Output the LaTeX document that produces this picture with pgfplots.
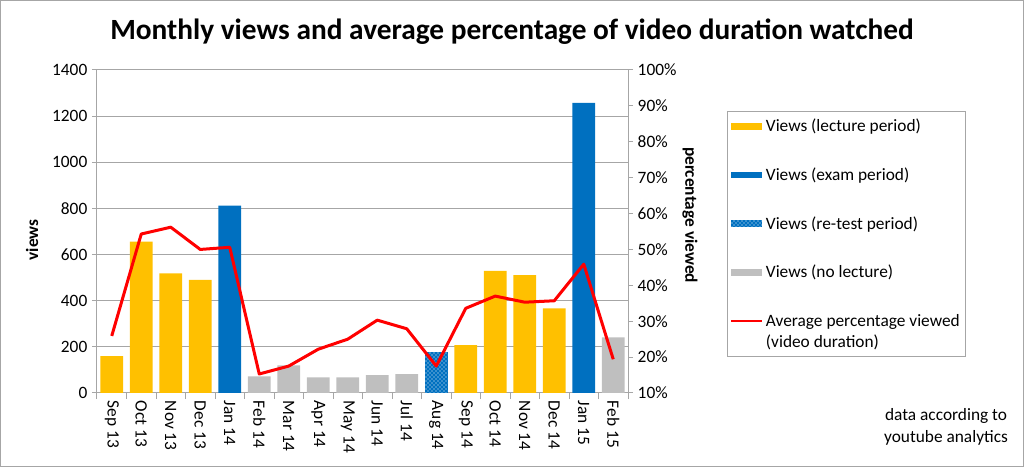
\documentclass[border=0pt]{standalone}
\usepackage{pgfplots}
\pgfplotsset{compat=1.18}
\usepackage{fontspec}
\setmainfont{Carlito}
\usetikzlibrary{patterns}
\definecolor{cyel}{HTML}{FFC000}
\definecolor{cblue}{HTML}{0070C0}
\definecolor{cgray}{HTML}{BFBFBF}
\definecolor{cgrid}{HTML}{A6A6A6}
\pgfplotsset{
  barleg/.style={legend image code/.code={\path[##1, draw=none] (0pt,-2.6pt) rectangle (23.25pt,2.6pt);}},
  lineleg/.style={legend image code/.code={\draw[##1] (0pt,7.9pt) -- (23.25pt,7.9pt);}},
}
\begin{document}
\begin{tikzpicture}
\path[use as bounding box] (-72.75pt,-55.5pt) rectangle (695.25pt,294.75pt);
\draw[cgrid, line width=0.75pt] (-72.4pt,-55.1pt) rectangle (694.9pt,294.4pt);
\begin{axis}[
  scale only axis, width=398.25pt, height=242.25pt,
  xmin=-0.5, xmax=17.5, ymin=0, ymax=1400,
  ytick={0,200,...,1400},
  /pgf/number format/1000 sep={},
  /pgf/number format/assume math mode=true,
  axis y line*=left, axis x line*=bottom,
  axis line style={cgrid, line width=0.75pt},
  ymajorgrids, grid style={cgrid, line width=0.75pt},
  tick align=outside, major tick length=3.75pt, minor tick length=4.5pt,
  tick style={cgrid, line width=0.75pt},
  major x tick style={draw=none},
  xtick={0,...,17},
  minor xtick={-0.5,0.5,...,17.5},
  xticklabels={Sep 13,Oct 13,Nov 13,Dec 13,Jan 14,Feb 14,Mar 14,Apr 14,May 14,Jun 14,Jul 14,Aug 14,Sep 14,Oct 14,Nov 14,Dec 14,Jan 15,Feb 15},
  x tick label style={rotate=-90, anchor=west, font=\fontsize{13}{15}\selectfont, inner sep=2pt},
  y tick label style={font=\fontsize{13}{15}\selectfont},
  ylabel={\textbf{views}},
  ylabel style={at={(axis description cs:-0.1224,0.474)}, anchor=center, rotate=0, font=\fontsize{13}{15}\selectfont},
  legend style={at={(axis description cs:1.1864,0.873)}, anchor=north west, draw=cgrid, line width=0.75pt,
    row sep=21.6pt, font=\fontsize{13}{15.75}\selectfont, cells={align=left}, inner xsep=2pt, inner ysep=3.5pt},
  legend cell align=left,
  clip=false,
]
\addplot[ybar, bar width=16.9pt, bar shift=0pt, fill=cyel, draw=none, barleg]
  coordinates {(0,160) (1,656) (2,519) (3,490) (12,208) (13,529) (14,511) (15,367)};
\addlegendentry{Views (lecture period)}
\addplot[ybar, bar width=16.9pt, bar shift=0pt, fill=cblue, draw=none, barleg]
  coordinates {(4,812) (16,1258)};
\addlegendentry{Views (exam period)}
\addplot[ybar, bar width=16.9pt, bar shift=0pt, fill=cblue, draw=none,
  postaction={pattern=crosshatch dots, pattern color=white}, barleg]
  coordinates {(11,179)};
\addlegendentry{Views (re-test period)}
\addplot[ybar, bar width=16.9pt, bar shift=0pt, fill=cgray, draw=none, barleg]
  coordinates {(5,72) (6,120) (7,68) (8,68) (9,78) (10,82) (17,241)};
\addlegendentry{Views (no lecture)}
\addlegendimage{red, line width=1.6pt, lineleg}
\addlegendentry{Average percentage viewed\\(video duration)}
\node[font=\bfseries\fontsize{22}{26}\selectfont] at (axis description cs:0.7815,1.1176) {Monthly views and average percentage of video duration watched};
\node[font=\fontsize{13}{16.5}\selectfont, align=center] at (axis description cs:1.599,-0.105) {data according to\\youtube analytics};
\end{axis}
\begin{axis}[
  scale only axis, width=398.25pt, height=242.25pt,
  xmin=-0.5, xmax=17.5, ymin=0.1, ymax=1,
  axis y line*=right, axis x line=none,
  axis line style={cgrid, line width=0.75pt},
  tick align=outside, major tick length=3.75pt,
  tick style={cgrid, line width=0.75pt},
  ytick={0.1,0.2,0.3,0.4,0.5,0.6,0.7,0.8,0.9,1},
  yticklabels={10\%,20\%,30\%,40\%,50\%,60\%,70\%,80\%,90\%,100\%},
  y tick label style={font=\fontsize{13}{15}\selectfont},
  ylabel={\textbf{percentage viewed}},
  ylabel style={at={(axis description cs:1.1168,0.551)}, anchor=center, rotate=180, font=\fontsize{13}{15}\selectfont},
]
\addplot[red, line width=2.25pt, line join=round] coordinates {
(0,0.259) (1,0.543) (2,0.562) (3,0.500) (4,0.506) (5,0.153) (6,0.175) (7,0.222) (8,0.250)
(9,0.303) (10,0.279) (11,0.175) (12,0.336) (13,0.370) (14,0.353) (15,0.357) (16,0.459) (17,0.194)};
\end{axis}
\end{tikzpicture}
\end{document}
